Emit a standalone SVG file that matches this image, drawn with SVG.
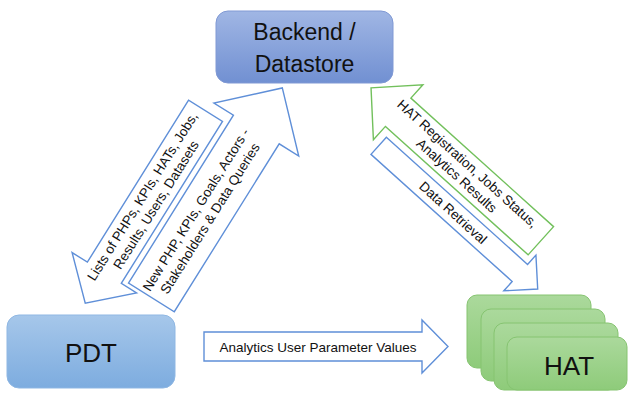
<svg xmlns="http://www.w3.org/2000/svg" width="628" height="396" viewBox="0 0 628 396">
  <defs>
    <linearGradient id="gBackend" x1="0" y1="0" x2="0" y2="1">
      <stop offset="0" stop-color="#a0b6e4"/>
      <stop offset="1" stop-color="#7190d2"/>
    </linearGradient>
    <linearGradient id="gPdt" x1="0" y1="0" x2="0" y2="1">
      <stop offset="0" stop-color="#a6c7ea"/>
      <stop offset="1" stop-color="#7dacdf"/>
    </linearGradient>
    <linearGradient id="gHat" x1="0" y1="0" x2="0" y2="1">
      <stop offset="0" stop-color="#abd99c"/>
      <stop offset="1" stop-color="#8ecb7a"/>
    </linearGradient>
    <style>
      .node-text { font-family: "Liberation Sans", Arial, sans-serif; fill: #111; text-anchor: middle; }
      .arrow-text { font-family: "Liberation Sans", Arial, sans-serif; font-size: 13.5px; fill: #111; text-anchor: middle; }
      .blue-arrow { fill: #ffffff; stroke: #5f8fd8; stroke-width: 1.4; stroke-linejoin: miter; }
      .green-arrow { fill: #ffffff; stroke: #72c05c; stroke-width: 1.4; stroke-linejoin: miter; }
      .hat-box { fill: url(#gHat); stroke: #86c471; stroke-width: 1; }
    </style>
  </defs>

  <rect width="628" height="396" fill="#ffffff"/>

  <!-- Backend / Datastore -->
  <g id="backend">
    <rect x="216" y="11" width="177" height="72" rx="12" fill="url(#gBackend)" stroke="#8099d4" stroke-width="1"/>
    <text class="node-text" x="304.5" y="40" font-size="23">Backend /</text>
    <text class="node-text" x="304.5" y="72" font-size="23">Datastore</text>
  </g>

  <!-- PDT -->
  <g id="pdt">
    <rect x="7" y="315" width="168" height="73" rx="12" fill="url(#gPdt)" stroke="#8fb7e3" stroke-width="1"/>
    <text class="node-text" x="91" y="362" font-size="26">PDT</text>
  </g>

  <!-- HAT stack -->
  <g id="hat">
    <rect class="hat-box" x="467" y="295" width="124" height="73" rx="10"/>
    <rect class="hat-box" x="481" y="309" width="124" height="72" rx="10"/>
    <rect class="hat-box" x="494" y="323" width="124" height="67" rx="10"/>
    <rect class="hat-box" x="507" y="337" width="120" height="53" rx="10"/>
    <text class="node-text" x="569" y="375" font-size="26">HAT</text>
  </g>

  <!-- Block arrows carrying the data flows -->
  <g id="connectors">
    <!-- PDT <-> Backend pair, laid out along the -58 degree axis -->
    <g transform="rotate(-58)">
      <path class="blue-arrow" d="M 15 213 L -176 213 L -176 195 L -212 233 L -176 271 L -176 253 L 15 253 Z"/>
      <text class="arrow-text" x="-91" y="229.5">Lists of PHPs, KPIs, HATs, Jobs,</text>
      <text class="arrow-text" x="-91" y="245.5">Results, Users, Datasets</text>

      <path class="blue-arrow" d="M -172 259 L 26 259 L 26 236 L 75 286 L 26 336 L 26 313 L -172 313 Z"/>
      <text class="arrow-text" x="-74" y="282">New PHP, KPIs, Goals, Actors -</text>
      <text class="arrow-text" x="-74" y="298.5">Stakeholders &amp; Data Queries</text>
    </g>

    <!-- HAT <-> Backend pair, laid out along the 42 degree axis -->
    <g transform="rotate(42)">
      <path class="green-arrow" d="M 563 -202 L 371 -202 L 371 -220 L 334.5 -183 L 371 -146 L 371 -164 L 563 -164 Z"/>
      <text class="arrow-text" x="457" y="-186.5">HAT Registration, Jobs Status,</text>
      <text class="arrow-text" x="457" y="-170.5">Analytics Results</text>

      <path class="blue-arrow" d="M 379 -156.5 L 569 -156.5 L 569 -169 L 593 -145 L 569 -121 L 569 -133.5 L 379 -133.5 Z"/>
      <text class="arrow-text" x="479" y="-140.5">Data Retrieval</text>
    </g>

    <!-- PDT -> HAT -->
    <path class="blue-arrow" d="M 204 332 L 422 332 L 422 320 L 448 346.5 L 422 373 L 422 361 L 204 361 Z"/>
    <text class="arrow-text" x="318" y="351.5">Analytics User Parameter Values</text>
  </g>
</svg>
